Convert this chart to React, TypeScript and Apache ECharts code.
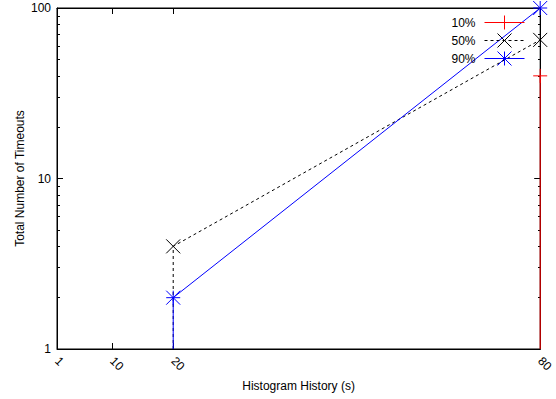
import React, { useEffect, useRef } from "react";
import * as echarts from "echarts";

// X tick positions (seconds of histogram history)
const xTicks = [1, 10, 20, 80];
// Y major / minor ticks (log scale)
const yMajor = [1, 10, 100];
const yMinor = [2, 3, 4, 5, 6, 7, 8, 9, 20, 30, 40, 50, 60, 70, 80, 90];

// Series: [history, timeouts]; a value of 1 is the floor of the log axis (no marker)
const seriesNames = ["10%", "50%", "90%"];
const s10: number[][] = [[80, 1], [80, 40]];
const s50: number[][] = [[20, 1], [20, 4], [80, 65]];
const s90: number[][] = [[20, 1], [20, 2], [80, 100]];

const FONT = "'Liberation Sans', Arial, Helvetica, sans-serif";
const PLUS = "path://M0,7L14,7M7,0L7,14";
const CROSS = "path://M0,0L14,14M14,0L0,14";
const STAR = "path://M0,7L14,7M7,0L7,14M0,0L14,14M14,0L0,14";
const COLORS = ["#ff0000", "#000000", "#0000ff"];
const SYMBOLS = [PLUS, CROSS, STAR];
const DASHED = [false, true, false];

function mk(i: number, data: number[][]) {
  const color = COLORS[i];
  const symbol = SYMBOLS[i];
  return {
    type: "line",
    name: seriesNames[i],
    xAxisIndex: 0,
    yAxisIndex: 0,
    data: data.map((p) => ({ value: p, symbol: p[1] <= 1 ? "none" : symbol })),
    symbol,
    symbolSize: 14,
    showAllSymbol: true,
    clip: false,
    lineStyle: { color, width: 1, type: DASHED[i] ? [3, 3] : "solid" },
    itemStyle: { color, borderColor: color, borderWidth: 1 },
    emphasis: { disabled: true },
    z: 3,
  };
}

export default function App() {
  const ref = useRef<HTMLDivElement>(null);
  useEffect(() => {
    if (!ref.current) return;
    const chart = echarts.init(ref.current, undefined, { renderer: "svg" });
    const grid = { left: 57, right: 15, top: 8, bottom: 50 };
    const black = { color: "#000", width: 1 };
    const logBase = { type: "log", logBase: 10, min: 1, max: 100, splitLine: { show: false } };
    chart.setOption({
      animation: false,
      backgroundColor: "#fff",
      textStyle: { fontFamily: FONT },
      grid: [
        { ...grid, show: true, borderColor: "#000", borderWidth: 1 },
        { ...grid, show: false },
      ],
      legend: {
        orient: "vertical",
        right: 31,
        top: 15,
        align: "right",
        padding: 0,
        itemWidth: 40,
        itemHeight: 17.5,
        itemGap: 3,
        textStyle: { fontSize: 12, color: "#000", fontFamily: FONT, padding: [0, 4, 0, 0] },
        data: seriesNames.map((n, i) => ({
          name: n,
          lineStyle: { color: COLORS[i], width: 1, type: DASHED[i] ? [3, 3] : "solid" },
          itemStyle: { color: COLORS[i], borderColor: COLORS[i], borderWidth: 1 },
        })),
      },
      xAxis: [
        {
          gridIndex: 0,
          type: "value",
          min: 1,
          max: 80,
          position: "bottom",
          name: "Histogram History (s)",
          nameLocation: "middle",
          nameGap: 28,
          nameTextStyle: { fontSize: 12, color: "#000", fontFamily: FONT },
          axisLine: { lineStyle: black },
          axisTick: { inside: true, length: 6, customValues: xTicks, lineStyle: black },
          axisLabel: { customValues: xTicks, rotate: -45, fontSize: 12, color: "#000", margin: 10, fontFamily: FONT },
          splitLine: { show: false },
        },
        {
          gridIndex: 0,
          type: "value",
          min: 1,
          max: 80,
          position: "top",
          axisLine: { show: true, lineStyle: black },
          axisTick: { inside: true, length: 6, customValues: xTicks, lineStyle: black },
          axisLabel: { show: false },
          splitLine: { show: false },
        },
        { gridIndex: 1, type: "value", min: 1, max: 80, show: false },
      ],
      yAxis: [
        {
          ...logBase,
          gridIndex: 0,
          position: "left",
          name: "Total Number of Timeouts",
          nameLocation: "middle",
          nameGap: 31,
          nameMoveOverlap: false,
          nameTextStyle: { fontSize: 12, color: "#000", fontFamily: FONT },
          axisLine: { show: true, lineStyle: black },
          axisTick: { inside: true, length: 6, customValues: yMajor, lineStyle: black },
          axisLabel: { customValues: yMajor, fontSize: 12, color: "#000", margin: 6, fontFamily: FONT },
          minorTick: { show: false },
        },
        {
          ...logBase,
          gridIndex: 0,
          position: "right",
          axisLine: { show: true, lineStyle: black },
          axisTick: { inside: true, length: 6, customValues: yMajor, lineStyle: black },
          axisLabel: { show: false },
        },
        {
          ...logBase,
          gridIndex: 1,
          position: "left",
          axisLine: { show: false },
          axisTick: { inside: true, length: 3, customValues: yMinor, lineStyle: black },
          axisLabel: { show: false },
        },
        {
          ...logBase,
          gridIndex: 1,
          position: "right",
          axisLine: { show: false },
          axisTick: { inside: true, length: 3, customValues: yMinor, lineStyle: black },
          axisLabel: { show: false },
        },
      ],
      series: [mk(0, s10), mk(1, s50), mk(2, s90)],
    });
    return () => chart.dispose();
  }, []);
  return (
    <div
      ref={ref}
      style={{ position: "fixed", left: 0, top: 0, width: 556, height: 399, background: "#fff" }}
    />
  );
}
